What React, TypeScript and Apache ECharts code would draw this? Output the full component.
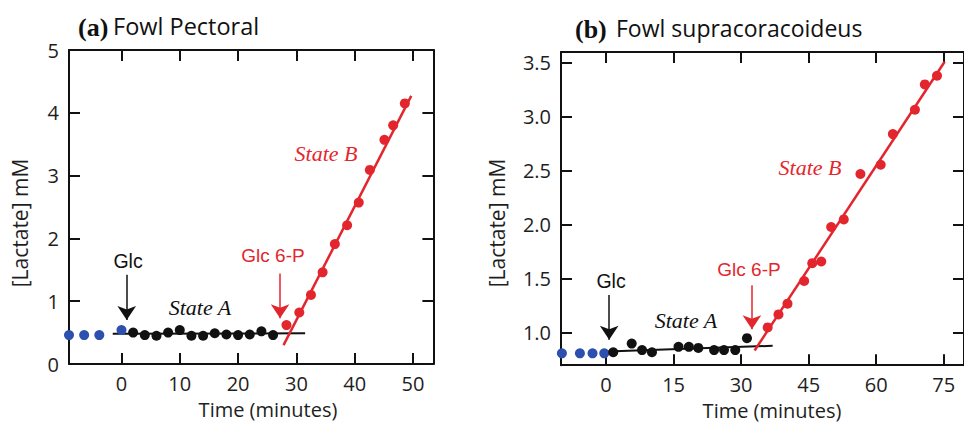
import React, { useEffect, useRef } from "react";
import * as echarts from "echarts";

// ---------- Panel (a): Fowl Pectoral ----------
const aTicksX = [0, 10, 20, 30, 40, 50];
const aTicksY = [0, 1, 2, 3, 4, 5];
const aBlueX = [-9, -6.4, -3.8, 0];
const aBlueY = [0.46, 0.46, 0.46, 0.54];
const aBlackX = [2, 4, 6, 8, 10, 12, 14, 16, 18, 20, 22, 24, 26];
const aBlackY = [0.5, 0.46, 0.45, 0.5, 0.54, 0.45, 0.45, 0.49, 0.47, 0.46, 0.47, 0.52, 0.46];
const aRedX = [28.3, 30.5, 32.5, 34.5, 36.6, 38.7, 40.7, 42.6, 45.1, 46.6, 48.6];
const aRedY = [0.62, 0.82, 1.1, 1.46, 1.91, 2.21, 2.57, 3.09, 3.57, 3.8, 4.15];
const aFitBlack = [[-1.5, 0.48], [31.5, 0.49]];
const aFitRed = [[27.8, 0.3], [49.7, 4.27]];
const aArrowGlc = [[0.9, 1.42], [0.9, 0.7]];
const aArrowG6P = [[27.2, 1.44], [27.2, 0.73]];

// ---------- Panel (b): Fowl supracoracoideus ----------
const bTicksX = [0, 15, 30, 45, 60, 75];
const bTicksY = [1.0, 1.5, 2.0, 2.5, 3.0, 3.5];
const bBlueX = [-9.8, -5.8, -3.0, -0.4];
const bBlueY = [0.81, 0.81, 0.81, 0.81];
const bBlackX = [1.6, 5.7, 8, 10.2, 16.1, 18.4, 20.5, 24, 26.2, 28.7, 31.3];
const bBlackY = [0.82, 0.9, 0.84, 0.82, 0.87, 0.87, 0.86, 0.84, 0.84, 0.84, 0.95];
const bRedX = [35.9, 38.3, 40.3, 44, 45.8, 47.8, 50, 52.8, 56.5, 61, 63.7, 68.6, 70.8, 73.5];
const bRedY = [1.05, 1.17, 1.27, 1.48, 1.645, 1.66, 1.98, 2.05, 2.47, 2.556, 2.84, 3.065, 3.3, 3.38];
const bFitBlack = [[0.3, 0.827], [37, 0.88]];
const bFitRed = [[33, 0.836], [75.2, 3.51]];
const bArrowGlc = [[0.7, 1.35], [0.7, 0.935]];
const bArrowG6P = [[32.4, 1.44], [32.4, 1.034]];

const RED = "#e3262d";
const BLUE = "#2d4fae";
const BLACK = "#111111";
const TXT = "#1e1e1e";
const SANS = "'Open Sans', sans-serif";
const HELV = "'Liberation Sans', Arial, sans-serif";
const SERIF = "'Liberation Serif', 'Times New Roman', serif";

const zip = (xs: number[], ys: number[]) => xs.map((x, i) => [x, ys[i]]);

function xAxes(gridIndex: number, min: number, max: number, ticks: number[]) {
  const base = {
    type: "value" as const,
    gridIndex,
    min,
    max,
    splitLine: { show: false },
    axisLine: { show: true, onZero: false, lineStyle: { color: BLACK, width: 2 } },
    axisTick: { show: true, inside: true, length: 11, customValues: ticks, lineStyle: { color: BLACK, width: 2 } },
  };
  return [
    {
      ...base,
      position: "bottom",
      axisLabel: { show: true, customValues: ticks, fontSize: 20, fontFamily: SANS, color: TXT, margin: 9 },
    },
    { ...base, position: "top", axisLabel: { show: false } },
  ];
}

function yAxes(gridIndex: number, min: number, max: number, ticks: number[], fmt?: (v: number) => string) {
  const base = {
    type: "value" as const,
    gridIndex,
    min,
    max,
    splitLine: { show: false },
    axisLine: { show: true, onZero: false, lineStyle: { color: BLACK, width: 2 } },
    axisTick: { show: true, inside: true, length: 11, customValues: ticks, lineStyle: { color: BLACK, width: 2 } },
  };
  return [
    {
      ...base,
      position: "left",
      axisLabel: {
        show: true,
        customValues: ticks,
        fontSize: 20,
        fontFamily: SANS,
        color: TXT,
        margin: 10,
        formatter: fmt ? (v: number) => fmt(v) : undefined,
      },
    },
    { ...base, position: "right", axisLabel: { show: false } },
  ];
}

function panelSeries(
  xi: number,
  blue: number[][],
  black: number[][],
  red: number[][],
  fitBlack: number[][],
  fitRed: number[][],
  arrowGlc: number[][],
  arrowG6P: number[][]
) {
  const common = { xAxisIndex: xi, yAxisIndex: xi };
  return [
    { ...common, type: "line", data: fitBlack, symbol: "none", lineStyle: { color: BLACK, width: 2 }, z: 2 },
    { ...common, type: "line", data: fitRed, symbol: "none", lineStyle: { color: RED, width: 2.5 }, z: 2 },
    { ...common, type: "scatter", data: blue, symbolSize: 10, itemStyle: { color: BLUE, opacity: 1 }, z: 3 },
    { ...common, type: "scatter", data: black, symbolSize: 10, itemStyle: { color: BLACK, opacity: 1 }, z: 3 },
    { ...common, type: "scatter", data: red, symbolSize: 10, itemStyle: { color: RED, opacity: 1 }, z: 3 },
    {
      ...common,
      type: "lines",
      coordinateSystem: "cartesian2d",
      symbol: ["none", "arrow"],
      symbolSize: [9, 14],
      lineStyle: { color: BLACK, width: 1.5, opacity: 1 },
      data: [{ coords: arrowGlc }],
      z: 4,
    },
    {
      ...common,
      type: "lines",
      coordinateSystem: "cartesian2d",
      symbol: ["none", "arrow"],
      symbolSize: [9, 14],
      lineStyle: { color: RED, width: 1.5, opacity: 1 },
      data: [{ coords: arrowG6P }],
      z: 4,
    },
  ];
}

function txt(x: number, y: number, text: string, font: any, extra: any = {}) {
  return {
    type: "text",
    x,
    y,
    ...extra,
    style: {
      text,
      fill: TXT,
      align: "center",
      verticalAlign: "middle",
      ...font,
    },
  };
}

export default function App() {
  const ref = useRef<HTMLDivElement>(null);
  useEffect(() => {
    const chart = echarts.init(ref.current!, null, { renderer: "svg" });
    const option: any = {
      animation: false,
      backgroundColor: "#ffffff",
      grid: [
        { left: 69, top: 50, width: 364.4, height: 314 },
        { left: 561, top: 52, width: 406.3, height: 313.2 },
      ],
      xAxis: [...xAxes(0, -9, 53.5, aTicksX), ...xAxes(1, -10, 79.5, bTicksX)],
      yAxis: [
        ...yAxes(0, 0, 5, aTicksY),
        ...yAxes(1, 0.7, 3.6, bTicksY, (v) => v.toFixed(1)),
      ],
      series: [
        ...panelSeries(0, zip(aBlueX, aBlueY), zip(aBlackX, aBlackY), zip(aRedX, aRedY), aFitBlack, aFitRed, aArrowGlc, aArrowG6P),
        ...panelSeries(2, zip(bBlueX, bBlueY), zip(bBlackX, bBlackY), zip(bRedX, bRedY), bFitBlack, bFitRed, bArrowGlc, bArrowG6P),
      ],
      graphic: [
        // titles
        txt(78, 27, "(a)", { fontFamily: SERIF, fontWeight: "bold", fontSize: 26, align: "left", fill: "#111" }),
        txt(113, 26, "Fowl Pectoral", { fontFamily: SANS, fontSize: 23.5, align: "left", fill: "#111" }),
        txt(575, 29, "(b)", { fontFamily: SERIF, fontWeight: "bold", fontSize: 26, align: "left", fill: "#111" }),
        txt(616, 28, "Fowl supracoracoideus", { fontFamily: SANS, fontSize: 23, align: "left", fill: "#111" }),
        // axis names
        txt(20, 223, "[Lactate] mM", { fontFamily: SANS, fontSize: 21 }, { rotation: Math.PI / 2 }),
        txt(497, 223, "[Lactate] mM", { fontFamily: SANS, fontSize: 21 }, { rotation: Math.PI / 2 }),
        txt(268, 409, "Time (minutes)", { fontFamily: SANS, fontSize: 20 }),
        txt(772, 410, "Time (minutes)", { fontFamily: SANS, fontSize: 20 }),
        // annotations (a)
        txt(128, 261, "Glc", { fontFamily: HELV, fontSize: 19.5, fill: "#111" }),
        txt(273, 255, "Glc 6-P", { fontFamily: HELV, fontSize: 19, fill: RED }),
        txt(200, 307, "State A", { fontFamily: SERIF, fontStyle: "italic", fontSize: 22, fill: "#111" }),
        txt(326, 153, "State B", { fontFamily: SERIF, fontStyle: "italic", fontSize: 22, fill: RED }),
        // annotations (b)
        txt(611, 281, "Glc", { fontFamily: HELV, fontSize: 19.5, fill: "#111" }),
        txt(749, 269, "Glc 6-P", { fontFamily: HELV, fontSize: 19, fill: RED }),
        txt(686, 320, "State A", { fontFamily: SERIF, fontStyle: "italic", fontSize: 22, fill: "#111" }),
        txt(810, 167, "State B", { fontFamily: SERIF, fontStyle: "italic", fontSize: 22, fill: RED }),
      ],
    };
    chart.setOption(option);
    return () => chart.dispose();
  }, []);
  return <div ref={ref} style={{ position: "absolute", left: 0, top: 0, width: 964, height: 423 }} />;
}
